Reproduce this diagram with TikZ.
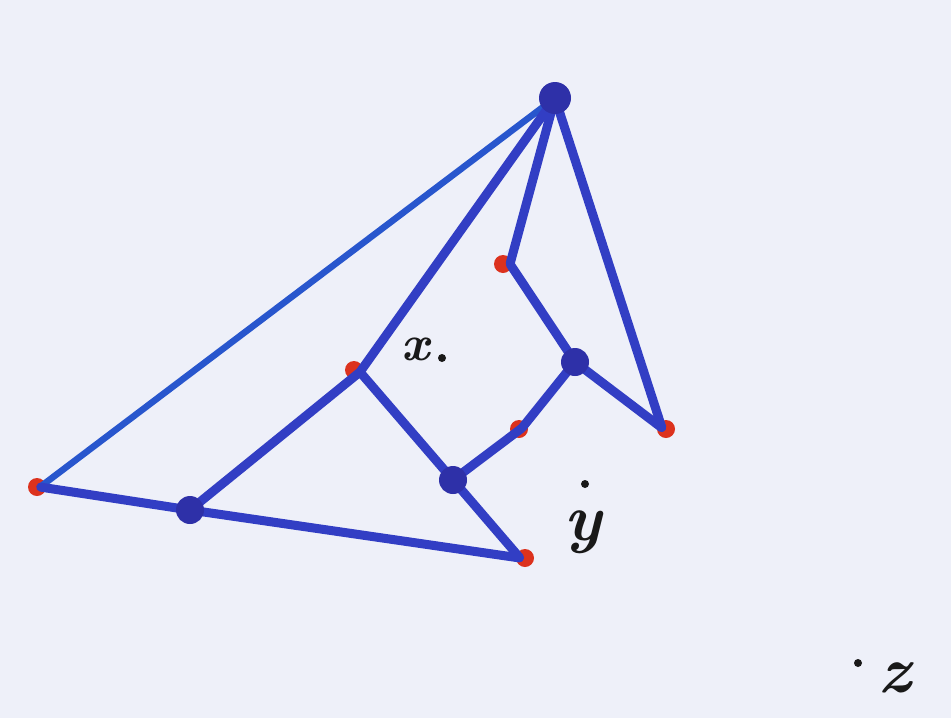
\documentclass[tikz,border=0pt]{standalone}
\usepackage{fix-cm}
\definecolor{paper}{RGB}{238,240,249}
\definecolor{pen}{RGB}{50,62,196}
\definecolor{penlight}{RGB}{40,86,205}
\definecolor{dotblue}{RGB}{46,48,168}
\definecolor{dotred}{RGB}{220,50,30}
\definecolor{ink}{RGB}{25,25,25}
\tikzset{
  edge/.style={draw=pen, line width=9pt, line cap=round, line join=round},
  thinedge/.style={draw=penlight, line width=6.5pt, line cap=round},
  bigdot/.style={circle, fill=dotblue, inner sep=0pt, minimum size=28pt},
  reddot/.style={circle, fill=dotred, inner sep=0pt, minimum size=18pt},
  junc/.style={circle, inner sep=0pt, minimum size=1pt},
  pt/.style={circle, fill=ink, inner sep=0pt, minimum size=8pt},
  lab/.style={text=ink, font=\fontsize{50}{56}\selectfont\bfseries\itshape, inner sep=0pt},
  biglab/.style={lab, font=\fontsize{66}{72}\selectfont\bfseries\itshape}
}
\begin{document}
\begin{tikzpicture}[x=1pt,y=-1pt]
\fill[paper] (0,0) rectangle (951,718);
\useasboundingbox (0,0) rectangle (951,718);
% junction coordinates
\node[junc] (T) at (555,98) {};
\node[junc] (L) at (40,487) {};
\node[junc] (A) at (190,510) {};
\node[junc] (X) at (360,372) {};
\node[junc] (C) at (453,480) {};
\node[junc] (D) at (520,558) {};
\node[junc] (E) at (522,428) {};
\node[junc] (F) at (575,362) {};
\node[junc] (G) at (510,264) {};
\node[junc] (H) at (662,428) {};
% red dots (under the ink)
\node[reddot] (rL) at (37,487) {};
\node[reddot] (rX) at (354,370) {};
\node[reddot] (rD) at (525,558) {};
\node[reddot] (rE) at (519,429) {};
\node[reddot] (rG) at (503,264) {};
\node[reddot] (rH) at (666,429) {};
% edges
\draw[thinedge] (L) -- (T);
\draw[edge] (T) -- (X);
\draw[edge] (T) -- (G);
\draw[edge] (T) -- (H);
\draw[edge] (L) -- (A);
\draw[edge] (A) -- (X);
\draw[edge] (A) -- (D);
\draw[edge] (X) -- (C);
\draw[edge] (C) -- (D);
\draw[edge] (C) -- (E);
\draw[edge] (E) -- (F);
\draw[edge] (F) -- (G);
\draw[edge] (F) -- (H);
% big blue dots
\node[bigdot, minimum size=32pt] (bT) at (T) {};
\node[bigdot] (bA) at (A) {};
\node[bigdot] (bC) at (C) {};
\node[bigdot] (bF) at (F) {};
% points x, y, z
\node[pt] (px) at (442,358) {};
\node[lab, anchor=base] (lx) at (416,360) {x};
\node[pt] (py) at (585,484) {};
\node[biglab, anchor=base] (ly) at (583,540) {y};
\node[pt] (pz) at (858,663) {};
\node[biglab, anchor=base] (lz) at (895,692) {z};
\end{tikzpicture}
\end{document}
